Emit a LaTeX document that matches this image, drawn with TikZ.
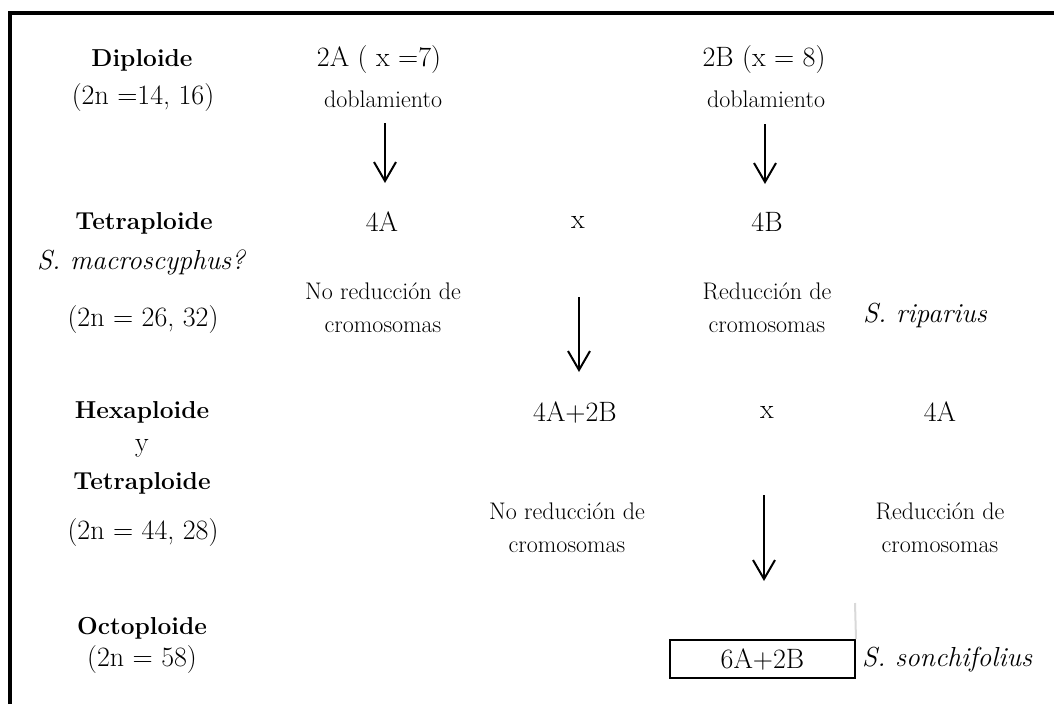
\documentclass[tikz,border=0pt]{standalone}
\usetikzlibrary{arrows.meta}
\begin{document}
\begin{tikzpicture}[x=1pt,y=-1pt,
  big/.style={inner sep=0pt,font=\fontsize{28}{32}\selectfont},
  ital/.style={inner sep=0pt,font=\fontsize{27.5}{32}\selectfont\itshape},
  lab/.style={inner sep=0pt,font=\fontsize{24.5}{30}\selectfont\bfseries},
  small/.style={inner sep=0pt,align=center,font=\fontsize{24}{33}\selectfont},
  arr/.style={line width=2pt,-{Straight Barb[length=19pt,width=22pt]}},
  frame/.style={line width=4pt}]
\useasboundingbox (0,0) rectangle (1054,704);
% frame
\coordinate (f1) at (9.5,704);
\coordinate (f2) at (9.5,13);
\coordinate (f3) at (1054,13);
\draw[frame] (f1) -- (f2) -- (f3);
% left column
\node[lab] (dip) at (142,60) {Diploide};
\node[big] (dipn) at (143,98) {(2n =14, 16)};
\node[lab] (tet) at (144,223) {Tetraploide};
\node[ital] (mac) at (141,262) {S. macroscyphus?};
\node[big] (tetn) at (143,320) {(2n = 26, 32)};
\node[lab] (hex) at (142,412) {Hexaploide};
\node[big] (y) at (142,448) {y};
\node[lab] (tet2) at (142,483) {Tetraploide};
\node[big] (hexn) at (143,533) {(2n = 44, 28)};
\node[lab] (oct) at (142,628) {Octoploide};
\node[big] (octn) at (142,660) {(2n = 58)};
% row 1
\node[big] (a2) at (379,60) {2A ( x =7)};
\node[small] (d1) at (383,99) {doblamiento};
\node[big] (b2) at (764,60) {2B (x = 8)};
\node[small] (d2) at (766,99) {doblamiento};
\coordinate (a1s) at (385,123);
\coordinate (a1e) at (385,183);
\coordinate (a2s) at (765,124);
\coordinate (a2e) at (765,184);
\draw[arr] (a1s) -- (a1e);
\draw[arr] (a2s) -- (a2e);
% row 2
\node[big] (a4) at (382,222) {4A};
\node[big] (x1) at (578,222) {x};
\node[big] (b4) at (767,222) {4B};
\node[small] (nr1) at (383,308) {No reducción de\\cromosomas};
\node[small] (r1) at (767,308) {Reducción de\\cromosomas};
\node[ital] (rip) at (925,315) {S. riparius};
\coordinate (a3s) at (579,297);
\coordinate (a3e) at (579,372);
\draw[arr] (a3s) -- (a3e);
% row 3
\node[big] (ab) at (575,412) {4A+2B};
\node[big] (x2) at (767,412) {x};
\node[big] (a4b) at (940,412) {4A};
\node[small] (nr2) at (567,528) {No reducción de\\cromosomas};
\node[small] (r2) at (940,528) {Reducción de\\cromosomas};
\coordinate (a4s) at (764,495);
\coordinate (a4e) at (764,581);
\draw[arr] (a4s) -- (a4e);
% row 4
\node[big,draw,line width=2pt,minimum width=185pt,minimum height=38pt] (res) at (762.5,659) {6A+2B};
\coordinate (g1) at (855,603);
\draw[gray!30,line width=2pt] (g1) -- (res.north east);
\node[ital,anchor=west] (son) at (862,660) {S. sonchifolius};
\end{tikzpicture}
\end{document}
